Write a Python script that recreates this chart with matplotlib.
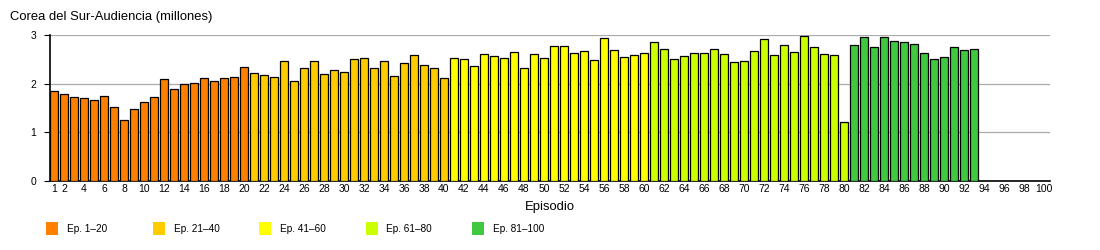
import matplotlib
matplotlib.use('Agg')
from matplotlib import pyplot as plt
from matplotlib.patches import Rectangle

plt.rcParams['font.family'] = ['Liberation Sans', 'DejaVu Sans']

# Audiencia por episodio (millones)
audience = [
    1.85, 1.78, 1.73, 1.70, 1.66, 1.74, 1.53, 1.25, 1.48, 1.62,
    1.72, 2.09, 1.90, 1.99, 2.01, 2.11, 2.05, 2.11, 2.13, 2.34,
    2.21, 2.17, 2.13, 2.46, 2.05, 2.33, 2.46, 2.19, 2.29, 2.23,
    2.50, 2.52, 2.33, 2.46, 2.15, 2.42, 2.58, 2.38, 2.33, 2.11,
    2.52, 2.50, 2.36, 2.60, 2.56, 2.52, 2.66, 2.33, 2.60, 2.52,
    2.77, 2.77, 2.62, 2.68, 2.48, 2.93, 2.70, 2.54, 2.58, 2.64,
    2.85, 2.72, 2.50, 2.56, 2.64, 2.64, 2.72, 2.60, 2.44, 2.46,
    2.68, 2.91, 2.58, 2.79, 2.66, 2.97, 2.75, 2.60, 2.58, 1.22,
    2.79, 2.95, 2.75, 2.95, 2.87, 2.85, 2.81, 2.62, 2.50, 2.54,
    2.75, 2.70, 2.72,
]
episodes = list(range(1, len(audience) + 1))

group_labels = ['Ep. 1–20', 'Ep. 21–40', 'Ep. 41–60', 'Ep. 61–80', 'Ep. 81–100']
group_colors = ['#ff8000', '#ffcc00', '#ffff00', '#ccff00', '#40c840']
group_size = 20

xtick_pos = [1] + list(range(2, 101, 2))

fig = plt.figure(figsize=(11, 2.5), dpi=100)
ax = fig.add_axes([50 / 1100, 1 - 181 / 250, 1000 / 1100, 146 / 250])

colors = [group_colors[(ep - 1) // group_size] for ep in episodes]
ax.bar(episodes, audience, width=0.77, color=colors, edgecolor='black',
       linewidth=0.9, zorder=3)

ax.set_xlim(0.6, 100.6)
ax.set_ylim(0, 3)
ax.set_yticks([0, 1, 2, 3])
ax.set_xticks(xtick_pos)
ax.set_xticklabels([str(x) for x in xtick_pos])
ax.tick_params(axis='x', length=0, labelsize=7.5, pad=2)
ax.tick_params(axis='y', length=4, labelsize=7.5, pad=6)
ax.grid(axis='y', color='#aaaaaa', linewidth=0.9, zorder=0)
for s in ['top', 'right']:
    ax.spines[s].set_visible(False)
ax.spines['left'].set_linewidth(1.2)
ax.spines['bottom'].set_linewidth(1.2)
ax.set_xlabel('Episodio', fontsize=9.4, labelpad=5)

fig.text(10 / 1100, 1 - 17 / 250, 'Corea del Sur-Audiencia (millones)',
         fontsize=9.4, va='center', ha='left')

# leyenda
for i, (lab, col) in enumerate(zip(group_labels, group_colors)):
    x0 = (46 + i * 106.5) / 1100
    fig.patches.append(Rectangle((x0, 1 - 235 / 250), 12 / 1100, 13 / 250,
                                 transform=fig.transFigure, facecolor=col,
                                 edgecolor='none'))
    fig.text(x0 + 21 / 1100, 1 - 229 / 250, lab, fontsize=7.2, va='center',
             ha='left')

fig.savefig('out.png', dpi=100)
